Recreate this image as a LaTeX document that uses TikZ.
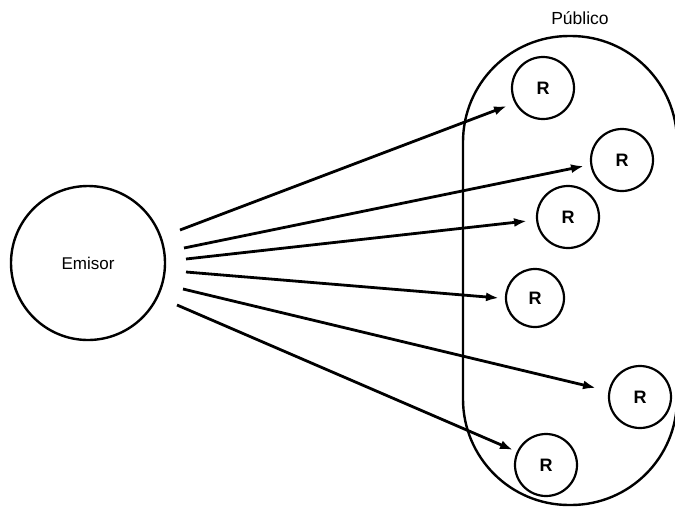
\documentclass[tikz,border=0pt]{standalone}
\usepackage{fontspec}
\setmainfont{Liberation Sans}
\usetikzlibrary{arrows.meta}
\begin{document}
\begin{tikzpicture}[x=1pt,y=-1pt,
  sender/.style={circle,draw,line width=2.4pt,minimum size=154pt,inner sep=0pt,font=\fontsize{17}{20}\selectfont},
  receiver/.style={circle,draw,line width=2.2pt,minimum size=62pt,inner sep=0pt,font=\fontsize{18}{20}\selectfont\bfseries},
  msg/.style={line width=2.8pt,-{Latex[length=13pt,width=9pt]}},
  audience/.style={draw,line width=2.4pt,rounded corners=106pt}]
\useasboundingbox (0,0) rectangle (675,507);
% audience boundary
\draw[audience] (463,36) rectangle (677,505);
\node[font=\fontsize{17.5}{20}\selectfont] (pub) at (580,18) {Público};
% sender
\node[sender] (em) at (88,263) {Emisor};
% receivers
\node[receiver] (r1) at (543,88) {R};
\node[receiver] (r2) at (622,160) {R};
\node[receiver] (r3) at (568,217) {R};
\node[receiver,minimum size=58pt] (r4) at (535,298) {R};
\node[receiver] (r5) at (640,397) {R};
\node[receiver] (r6) at (546,465) {R};
% message starts and tips
\coordinate (s1) at (180,230); \coordinate (e1) at (507,106);
\coordinate (s2) at (184,248); \coordinate (e2) at (584,166);
\coordinate (s3) at (186,259); \coordinate (e3) at (527,221);
\coordinate (s4) at (186,272); \coordinate (e4) at (499,298);
\coordinate (s5) at (183,289); \coordinate (e5) at (596,388);
\coordinate (s6) at (177,305); \coordinate (e6) at (513,450);
\foreach \i in {1,...,6} \draw[msg] (s\i) -- (e\i);
\end{tikzpicture}
\end{document}
